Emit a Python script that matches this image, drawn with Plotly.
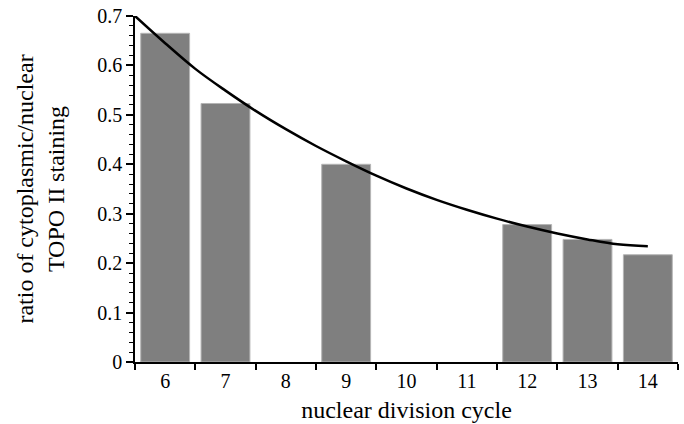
import plotly.graph_objects as go

cycles = [6, 7, 8, 9, 10, 11, 12, 13, 14]
ratios = [0.665, 0.523, None, 0.400, None, None, 0.278, 0.248, 0.217]
tick_labels = ["6", "7", "8", "9", "10", "11", "12", "13", "14"]

fit_x = [5.5, 6.0, 6.5, 7.0, 7.5, 8.0, 8.5, 9.0, 9.5, 10.0, 10.5, 11.0, 11.5, 12.0, 12.5, 13.0, 13.5, 14.0]
fit_y = [0.700, 0.645, 0.593, 0.549, 0.508, 0.471, 0.437, 0.406, 0.377, 0.351, 0.328, 0.308, 0.290, 0.274, 0.260, 0.248, 0.238, 0.234]

fig = go.Figure()
fig.add_trace(go.Bar(
    x=cycles, y=ratios, width=0.81,
    marker=dict(color="#7f7f7f", line=dict(color="#b5b5b5", width=1)),
    showlegend=False,
))
fig.add_trace(go.Scatter(
    x=fit_x, y=fit_y, mode="lines",
    line=dict(color="black", width=2.5, shape="spline"),
    showlegend=False,
))

font_family = "Liberation Serif"
fig.update_layout(
    width=684, height=424,
    margin=dict(l=135, r=6, t=16, b=62, autoexpand=False),
    plot_bgcolor="white", paper_bgcolor="white",
    font=dict(family=font_family, color="black", size=20),
    xaxis=dict(
        range=[5.5, 14.5], tickvals=cycles, ticktext=tick_labels,
        ticks="", showgrid=False, zeroline=False, automargin=False,
        showline=True, linecolor="black", linewidth=1.5,
        tickfont=dict(family=font_family, size=20, color="black"),
        minor=dict(tickvals=[5.5 + i for i in range(10)], ticks="outside",
                   ticklen=6, tickcolor="black", tickwidth=1.5, showgrid=False),
        title=dict(text="nuclear division cycle",
                   font=dict(family=font_family, size=24, color="black"), standoff=10),
    ),
    yaxis=dict(
        range=[0, 0.7], tickvals=[0, 0.1, 0.2, 0.3, 0.4, 0.5, 0.6, 0.7],
        ticktext=["0", "0.1", "0.2", "0.3", "0.4", "0.5", "0.6", "0.7"],
        ticks="outside", ticklen=7, tickwidth=1.5, tickcolor="black",
        showgrid=False, zeroline=False, automargin=False,
        showline=True, linecolor="black", linewidth=1.5,
        tickfont=dict(family=font_family, size=20, color="black"),
        minor=dict(dtick=0.02, ticks="outside", ticklen=4, tickcolor="black",
                   tickwidth=1, showgrid=False),
        title=dict(text="ratio of cytoplasmic/nuclear<br>TOPO II staining",
                   font=dict(family=font_family, size=24, color="black"), standoff=26),
    ),
    bargap=0.19,
)

fig.write_html("out.html", config={"displayModeBar": False},
               post_script="document.body.style.margin='0';")
